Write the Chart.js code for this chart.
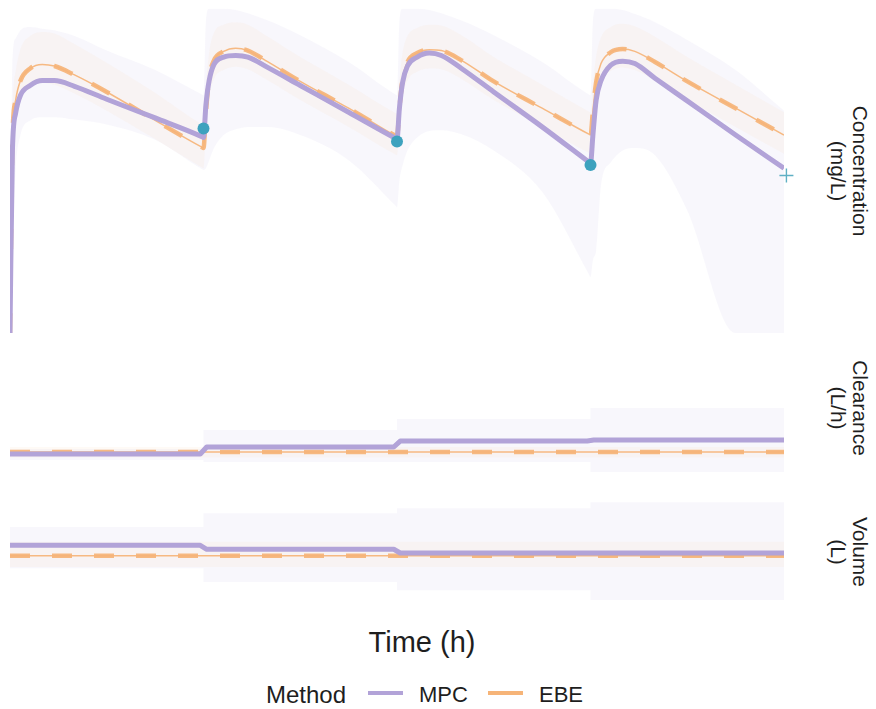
<!DOCTYPE html>
<html>
<head>
<meta charset="utf-8">
<script src="https://cdn.jsdelivr.net/npm/chart.js@4.4.1/dist/chart.umd.min.js"></script>
<style>
  html, body { margin: 0; padding: 0; background: #fff; }
  body { width: 876px; height: 709px; overflow: hidden; position: relative;
         font-family: "Liberation Sans", Arial, Helvetica, sans-serif; color: #1e1e1e; }
  canvas { position: absolute; left: 0; }
  .strip { position: absolute; width: 200px; height: 44px; line-height: 22px; font-size: 21px;
           text-align: center; transform: rotate(90deg); white-space: nowrap; }
  .txt { position: absolute; line-height: 1; white-space: nowrap; }
  .swatch { position: absolute; height: 4px; width: 35px; }
</style>
</head>
<body>
<canvas id="conc" width="794" height="343" style="top:0px"></canvas>
<canvas id="clear" width="794" height="125" style="top:360px"></canvas>
<canvas id="vol" width="794" height="130" style="top:485px"></canvas>

<div class="strip" style="left:749px; top:149px">Concentration<br>(mg/L)</div>
<div class="strip" style="left:749px; top:386px">Clearance<br>(L/h)</div>
<div class="strip" style="left:749px; top:530px">Volume<br>(L)</div>

<div class="txt" style="left:322px; width:200px; text-align:center; top:628px; font-size:29px">Time (h)</div>

<div class="txt" style="left:266px; top:683px; font-size:24px">Method</div>
<div class="swatch" style="left:368px; top:691px; background:#B2A3D8"></div>
<div class="txt" style="left:419px; top:684px; font-size:22px">MPC</div>
<div class="swatch" style="left:488px; top:691px; background:#F6B478"></div>
<div class="txt" style="left:539px; top:684px; font-size:22px">EBE</div>

<script>
// ---- Concentration profile (mg/L) over four 24 h dosing intervals ----
const concTime = [0, 0.3, 0.7, 1.3, 2.5, 4, 5.5, 8, 12, 18, 23.8,
                  24, 24.3, 24.7, 25.3, 26.5, 28, 29.5, 32, 36, 42, 47.8,
                  48, 48.3, 48.7, 49.3, 50.5, 52, 53.5, 56, 60, 66, 71.8,
                  72, 72.3, 72.7, 73.3, 74.5, 76, 77.5, 80, 84, 90,
                  96];
const mpcConc = [0, 22.5, 27.1, 29.3, 30.5, 31.1, 31.1, 30.4, 28.8, 26.5, 24.2,
                 24.1, 28.1, 31.1, 33.1, 34.0, 34.2, 34.0, 32.7, 30.5, 27.2, 24.0,
                 23.9, 27.7, 30.9, 32.9, 34.0, 34.5, 34.2, 32.6, 29.7, 25.4, 21.05,
                 20.9, 24.4, 28.7, 31.1, 33.0, 33.5, 33.2, 31.4, 28.6, 24.4,
                 20.3];
const mpcConcLo = [0, 10.2, 20.1, 24.4, 26.2, 26.6, 26.6, 26.3, 25.7, 23.8, 20.2,
                   20.1, 20.3, 21.3, 22.8, 24.4, 25.1, 25.4, 25.4, 24.4, 21.3, 15.7,
                   15.5, 18.8, 20.7, 22.5, 24.1, 24.9, 25.0, 24.5, 22.5, 17.4, 7.25,
                   6.9, 9.0, 10.2, 18.2, 21.0, 22.5, 22.8, 21.9, 15.1, 0,
                   0];
const mpcConcHi = [0, 33.6, 36.3, 37.3, 37.7, 37.5, 37.3, 36.6, 34.8, 32.4, 29.4,
                   29.3, 38.5, 40, 40, 40, 39.8, 39.4, 38.5, 36.7, 33.4, 29.4,
                   29.3, 38.5, 40, 40, 40, 39.8, 39.4, 38.5, 36.7, 33.4, 29.4,
                   29.3, 38.5, 40, 40, 40, 39.8, 39.3, 38.3, 36.1, 32.4,
                   27.4];
const ebeConc = [0, 23.8, 28.7, 31.1, 32.6, 33.1, 32.9, 31.8, 29.7, 26.2, 22.9,
                 22.8, 27.2, 31.4, 33.6, 34.7, 35.1, 34.8, 33.4, 31.0, 27.7, 24.3,
                 24.2, 27.7, 31.4, 33.4, 34.5, 34.9, 34.8, 33.6, 31.0, 27.7, 24.5,
                 24.4, 27.4, 30.9, 33.2, 34.6, 35.0, 34.7, 33.4, 31.0, 27.7,
                 24.4];
const ebeConcLo = [0, 20.5, 26.0, 28.8, 30.3, 30.8, 30.6, 29.5, 27.4, 23.9, 20.4,
                   20.3, 24.8, 29.0, 31.3, 32.4, 32.8, 32.5, 31.1, 28.7, 25.4, 22.0,
                   21.9, 25.4, 29.1, 31.1, 32.2, 32.6, 32.5, 31.3, 28.7, 25.4, 22.2,
                   22.1, 25.1, 28.6, 30.9, 32.3, 32.7, 32.4, 31.1, 28.7, 25.4,
                   22.1];
const ebeConcHi = [0, 26.8, 32.2, 35.0, 36.6, 37.1, 36.9, 35.6, 33.3, 29.6, 25.7,
                   25.6, 30.5, 34.6, 37.0, 38.0, 38.3, 38.0, 36.5, 34.0, 30.6, 27.1,
                   27.0, 31.0, 34.6, 36.6, 37.6, 38.0, 37.9, 36.7, 34.0, 30.6, 27.3,
                   27.2, 30.6, 34.1, 36.4, 37.7, 38.1, 37.8, 36.5, 34.0, 30.6,
                   27.2];
// measured trough samples and the next predicted trough
const obsTime = [24, 48, 72];
const obsConc = [25.2, 23.6, 20.7];
const nextTime = [96.3];
const nextConc = [19.4];

// ---- Individual parameter estimates, updated at each dose ----
const stepTime = [0, 23.6, 24.4, 47.6, 48.4, 71.6, 72.4, 96];
const bandTime = [0, 24, 24, 48, 48, 72, 72, 96];

const mpcClear   = [3.20, 3.20, 3.60, 3.60, 3.94, 3.94, 4.00, 4.00];
const ebeClear   = [3.31, 3.31, 3.31, 3.31, 3.31, 3.31, 3.31, 3.31];
const mpcClearLo = [2.86, 2.86, 2.74, 2.74, 2.74, 2.74, 2.17, 2.17];
const mpcClearHi = [3.49, 3.49, 4.57, 4.57, 5.20, 5.20, 5.83, 5.83];
const ebeClearLo = [3.00, 3.00, 3.00, 3.00, 3.00, 3.00, 3.00, 3.00];
const ebeClearHi = [3.60, 3.60, 3.60, 3.60, 3.60, 3.60, 3.60, 3.60];

const mpcVol   = [50.85, 50.85, 50.13, 50.13, 49.45, 49.45, 49.45, 49.45];
const ebeVol   = [48.95, 48.95, 48.95, 48.95, 48.95, 48.95, 48.95, 48.95];
const mpcVolLo = [46.7, 46.7, 44.2, 44.2, 42.7, 42.7, 40.9, 40.9];
const mpcVolHi = [54.2, 54.2, 56.7, 56.7, 57.6, 57.6, 58.7, 58.7];
const ebeVolLo = [46.9, 46.9, 46.9, 46.9, 46.9, 46.9, 46.9, 46.9];
const ebeVolHi = [51.5, 51.5, 51.5, 51.5, 51.5, 51.5, 51.5, 51.5];

// ---- styling ----
const MPC_COLOR = '#B2A3D8';
const EBE_COLOR = 'rgba(246,180,120,0.92)';
const MPC_FILL = 'rgba(178,163,216,0.085)';
const EBE_FILL = 'rgba(246,180,120,0.065)';
const OBS_COLOR = '#3DA2BE';

const pts = (xs, ys) => xs.map((x, i) => ({ x: x, y: ys[i] }));

function band(xs, lo, hi, fillColor, order, smooth) {
  const common = { pointRadius: 0, borderWidth: 0, borderColor: 'transparent',
                   cubicInterpolationMode: smooth ? 'monotone' : 'default', tension: 0 };
  return [
    Object.assign({ data: pts(xs, lo), fill: false, order: order }, common),
    Object.assign({ data: pts(xs, hi), fill: '-1', backgroundColor: fillColor, order: order }, common)
  ];
}

// MPC drawn on top of the EBE thin line and dashes
function lines(xs, mpc, ebe, smooth) {
  const interp = smooth ? 'monotone' : 'default';
  return [
    { data: pts(xs, mpc), borderColor: MPC_COLOR, borderWidth: 5, pointRadius: 0,
      fill: false, cubicInterpolationMode: interp, tension: 0, order: 1,
      borderCapStyle: 'butt', borderJoinStyle: 'round' },
    { data: pts(xs, ebe), borderColor: EBE_COLOR, borderWidth: 1.5, pointRadius: 0,
      fill: false, cubicInterpolationMode: interp, tension: 0, order: 3 },
    { data: pts(xs, ebe), borderColor: EBE_COLOR, borderWidth: 4.5, pointRadius: 0,
      fill: false, cubicInterpolationMode: interp, tension: 0, order: 2,
      borderDash: [20, 22], borderCapStyle: 'butt' }
  ];
}

function panel(id, yMin, yMax, datasets, pad) {
  return new Chart(document.getElementById(id), {
    type: 'line',
    data: { datasets: datasets },
    options: {
      responsive: false,
      animation: false,
      events: [],
      layout: { padding: pad },
      plugins: { legend: { display: false }, tooltip: { enabled: false } },
      scales: {
        x: { type: 'linear', min: 0, max: 96, display: false },
        y: { type: 'linear', min: yMin, max: yMax, display: false }
      }
    }
  });
}

// Concentration panel
panel('conc', 0, 40, [
  ...band(concTime, mpcConcLo, mpcConcHi, MPC_FILL, 20, true),
  ...band(concTime, ebeConcLo, ebeConcHi, EBE_FILL, 19, true),
  ...lines(concTime, mpcConc, ebeConc, true),
  { data: pts(obsTime, obsConc), showLine: false, pointRadius: 6, pointHoverRadius: 6,
    pointBackgroundColor: OBS_COLOR, pointBorderWidth: 0, pointBorderColor: OBS_COLOR, order: 0 },
  { data: pts(nextTime, nextConc), showLine: false, pointStyle: 'cross', pointRadius: 7,
    pointBorderWidth: 1.4, pointBorderColor: '#5FB0C4', order: 0, clip: false }
], { left: 10, right: 10, top: 8, bottom: 10 });

// Clearance panel
panel('clear', 2, 8, [
  ...band(bandTime, mpcClearLo, mpcClearHi, MPC_FILL, 20, false),
  ...band(bandTime, ebeClearLo, ebeClearHi, EBE_FILL, 19, false),
  ...lines(stepTime, mpcClear, ebeClear, false)
], { left: 10, right: 10, top: 10, bottom: 10 });

// Volume panel
panel('vol', 40, 60, [
  ...band(bandTime, mpcVolLo, mpcVolHi, MPC_FILL, 20, false),
  ...band(bandTime, ebeVolLo, ebeVolHi, EBE_FILL, 19, false),
  ...lines(stepTime, mpcVol, ebeVol, false)
], { left: 10, right: 10, top: 10, bottom: 10 });
</script>
</body>
</html>
